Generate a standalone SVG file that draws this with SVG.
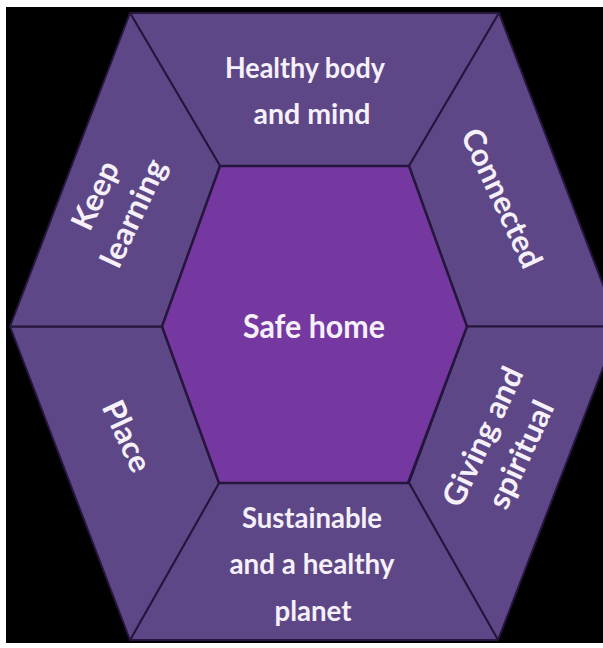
<svg xmlns="http://www.w3.org/2000/svg" width="603" height="648" viewBox="0 0 603 648">
  <style>
    .seg { fill: #5d4787; stroke: #26163d; stroke-width: 2; stroke-linejoin: round; }
    .core { fill: #7538a0; stroke: #26163d; stroke-width: 2.5; stroke-linejoin: round; }
    .lbl { font-family: Lato, "Open Sans", "Liberation Sans", sans-serif; font-weight: bold; fill: #f6f0fa; text-anchor: middle; }
    .h { font-size: 29px; }
    .r { font-size: 31px; }
    .c { font-size: 32px; }
  </style>
  <!-- page and backdrop -->
  <rect x="0" y="0" width="603" height="648" fill="#ffffff"/>
  <rect x="6" y="7" width="597" height="636" fill="#000000"/>

  <!-- outer ring of six segments -->
  <g id="top">
    <polygon class="seg" points="130,13 499,13 409,166 220,166"/>
    <text class="lbl h" x="305" y="78" textLength="160" lengthAdjust="spacingAndGlyphs">Healthy body</text>
    <text class="lbl h" x="312" y="124" textLength="117" lengthAdjust="spacingAndGlyphs">and mind</text>
  </g>
  <g id="upper-right">
    <polygon class="seg" points="499,13 619,326.5 467,326.5 409,166"/>
    <g transform="translate(502,198) rotate(65)">
      <text class="lbl r" x="0" y="11" textLength="150" lengthAdjust="spacingAndGlyphs">Connected</text>
    </g>
  </g>
  <g id="lower-right">
    <polygon class="seg" points="619,326.5 498,640 409,483 467,326.5"/>
    <g transform="translate(501.5,445.5) rotate(-65)">
      <text class="lbl r" x="0" y="-10" textLength="150" lengthAdjust="spacingAndGlyphs">Giving and</text>
      <text class="lbl r" x="0" y="32" textLength="115" lengthAdjust="spacingAndGlyphs">spiritual</text>
    </g>
  </g>
  <g id="bottom">
    <polygon class="seg" points="498,640 130,640 219,483 409,483"/>
    <text class="lbl h" x="312" y="528" textLength="140" lengthAdjust="spacingAndGlyphs">Sustainable</text>
    <text class="lbl h" x="312" y="574" textLength="165" lengthAdjust="spacingAndGlyphs">and a healthy</text>
    <text class="lbl h" x="313" y="621" textLength="77" lengthAdjust="spacingAndGlyphs">planet</text>
  </g>
  <g id="lower-left">
    <polygon class="seg" points="130,640 10,326.5 162,326.5 219,483"/>
    <g transform="translate(127,436) rotate(65)">
      <text class="lbl r" x="0" y="11" textLength="75" lengthAdjust="spacingAndGlyphs">Place</text>
    </g>
  </g>
  <g id="upper-left">
    <polygon class="seg" points="10,326.5 130,13 220,166 162,326.5"/>
    <g transform="translate(114,204) rotate(-65)">
      <text class="lbl r" x="0" y="-10" textLength="72" lengthAdjust="spacingAndGlyphs">Keep</text>
      <text class="lbl r" x="0" y="32" textLength="115" lengthAdjust="spacingAndGlyphs">learning</text>
    </g>
  </g>

  <!-- centre hexagon -->
  <g id="centre">
    <polygon class="core" points="220,166 409,166 467,326.5 408,483 219,483 162,326.5"/>
    <text class="lbl c" x="314" y="338" textLength="142" lengthAdjust="spacingAndGlyphs">Safe home</text>
  </g>
</svg>
